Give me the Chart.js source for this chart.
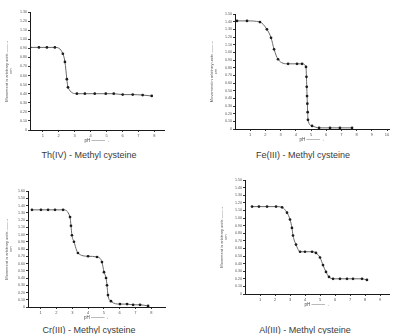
<!DOCTYPE html>
<html>
<head>
<meta charset="utf-8">
<script src="https://cdn.jsdelivr.net/npm/chart.js@4.4.1/dist/chart.umd.min.js"></script>
<style>
  html, body { margin: 0; padding: 0; background: #fff; }
  #wrap { position: relative; width: 393px; height: 334px; overflow: hidden; background: #fff; }
  canvas { position: absolute; }
  .ttl { position: absolute; font-family: "Liberation Sans", Arial, sans-serif; font-size: 9px; color: #3a3a3a; white-space: nowrap; transform: translate(-50%, -50%); line-height: 9px; }
</style>
</head>
<body>
<div id="wrap">
  <canvas id="cTh" width="170" height="145" style="left:0px;top:0px"></canvas>
  <canvas id="cFe" width="188" height="144" style="left:205px;top:0px"></canvas>
  <canvas id="cCr" width="175" height="155" style="left:0px;top:167px"></canvas>
  <canvas id="cAl" width="178" height="142" style="left:215px;top:167px"></canvas>
  <div class="ttl" style="left:89px;top:155px">Th(IV) - Methyl cysteine</div>
  <div class="ttl" style="left:303px;top:155px">Fe(III) - Methyl cysteine</div>
  <div class="ttl" style="left:89px;top:330px">Cr(III) - Methyl cysteine</div>
  <div class="ttl" style="left:305px;top:330px">Al(III) - Methyl cysteine</div>
</div>
<script>
// ---- data (pH vs. value) ----
const thPH = [0.2, 0.76, 1.26, 1.76, 2.26, 2.39, 2.51, 2.58, 3.14, 3.64, 4.26, 4.95, 5.45, 6.01, 6.64, 7.26, 7.83];
const thVal = [0.91, 0.91, 0.91, 0.91, 0.84, 0.75, 0.56, 0.47, 0.40, 0.40, 0.40, 0.40, 0.40, 0.39, 0.39, 0.385, 0.375];

const fePH = [0.13, 0.79, 1.64, 2.1, 2.37, 2.57, 2.83, 3.49, 4.08, 4.41, 4.67, 4.70, 4.72, 4.74, 4.76, 4.78, 4.80, 5.07, 5.53, 6.25, 6.9, 7.7];
const feVal = [1.41, 1.41, 1.395, 1.30, 1.19, 1.04, 0.91, 0.85, 0.85, 0.85, 0.81, 0.68, 0.55, 0.43, 0.33, 0.22, 0.12, 0.04, 0.015, 0.015, 0.015, 0.015];

const crPH = [0.45, 1.02, 1.47, 1.91, 2.42, 2.86, 2.92, 2.98, 3.11, 3.36, 4.0, 4.57, 4.88, 5.01, 5.14, 5.2, 5.26, 5.45, 6.02, 6.47, 6.85, 7.29, 7.8];
const crVal = [1.34, 1.34, 1.34, 1.34, 1.34, 1.24, 1.12, 0.99, 0.90, 0.745, 0.70, 0.69, 0.62, 0.48, 0.40, 0.30, 0.165, 0.08, 0.04, 0.04, 0.03, 0.03, 0.015];

const alPH = [0.47, 0.93, 1.47, 2.07, 2.47, 2.8, 3.0, 3.13, 3.2, 3.4, 3.67, 4.0, 4.47, 4.73, 5.0, 5.2, 5.4, 5.6, 5.87, 6.33, 6.8, 7.2, 7.8, 8.13];
const alVal = [1.15, 1.15, 1.15, 1.15, 1.14, 1.07, 0.98, 0.87, 0.77, 0.65, 0.556, 0.556, 0.556, 0.54, 0.48, 0.38, 0.29, 0.225, 0.20, 0.20, 0.20, 0.20, 0.20, 0.185];

// tick values
const xTicks8 = [1, 2, 3, 4, 5, 6, 7, 8];
const xTicks9 = [1, 2, 3, 4, 5, 6, 7, 8, 9];
const xTicks10 = [1, 2, 3, 4, 5, 6, 7, 8, 9, 10];
const yTicks13 = [0, 0.1, 0.2, 0.3, 0.4, 0.5, 0.6, 0.7, 0.8, 0.9, 1.0, 1.1, 1.2, 1.3];
const yTicks15 = [0, 0.1, 0.2, 0.3, 0.4, 0.5, 0.6, 0.7, 0.8, 0.9, 1.0, 1.1, 1.2, 1.3, 1.4, 1.5];
const yTicks16 = [0, 0.1, 0.2, 0.3, 0.4, 0.5, 0.6, 0.7, 0.8, 0.9, 1.0, 1.1, 1.2, 1.3, 1.4, 1.5, 1.6];

const yTitle = ['Movement in arbitrary units ——→', 'cm'];
const xTitle = 'pH ———→';

function makeChart(id, xs, ys, xt, yt, cfg) {
  new Chart(document.getElementById(id), {
    type: 'scatter',
    data: {
      datasets: [{
        data: xs.map((x, i) => ({ x: x, y: ys[i] })),
        showLine: true,
        borderColor: '#6a6a6a',
        borderWidth: 1,
        pointRadius: 1.35,
        pointBackgroundColor: '#1c1c1c',
        pointBorderWidth: 0,
        cubicInterpolationMode: 'monotone'
      }]
    },
    options: {
      responsive: false,
      animation: false,
      events: [],
      plugins: { legend: { display: false }, tooltip: { enabled: false } },
      layout: { padding: { top: cfg.top, right: cfg.right, left: 0, bottom: 0 } },
      scales: {
        x: {
          type: 'linear', min: cfg.xmin, max: cfg.xmax,
          afterFit: s => { s.height = 15; },
          afterBuildTicks: s => { s.ticks = xt.map(v => ({ value: v })); },
          grid: { display: true, drawOnChartArea: false, tickLength: 2, color: '#333' },
          border: { color: '#1a1a1a', width: 1 },
          ticks: { font: { size: 4, family: 'Liberation Sans' }, color: '#555', padding: 1, maxRotation: 0, autoSkip: false },
          title: { display: true, text: xTitle, font: { size: 4.5, family: 'Liberation Sans' }, color: '#444', padding: { top: 0, bottom: 2 } }
        },
        y: {
          type: 'linear', min: 0, max: cfg.ymax,
          afterFit: s => { s.width = cfg.yw; },
          afterBuildTicks: s => { s.ticks = yt.map(v => ({ value: v })); },
          grid: { display: true, drawOnChartArea: false, tickLength: 2, color: '#333' },
          border: { color: '#1a1a1a', width: 1 },
          ticks: { font: { size: 3.6, family: 'Liberation Sans' }, color: '#555', padding: 1, autoSkip: false,
                   callback: v => v === 0 ? '0' : v.toFixed(2) },
          title: { display: true, text: yTitle, font: { size: 4, family: 'Liberation Sans' }, color: '#555', padding: { top: 4, bottom: 2 } }
        }
      }
    }
  });
}

makeChart('cTh', thPH, thVal, xTicks8, yTicks13, { top: 12, right: 6, yw: 30, xmin: 0.2, xmax: 8.6, ymax: 1.3 });
makeChart('cFe', fePH, feVal, xTicks10, yTicks15, { top: 14, right: 4, yw: 30, xmin: 0, xmax: 10.13, ymax: 1.5 });
makeChart('cCr', crPH, crVal, xTicks8, yTicks16, { top: 24, right: 10, yw: 28, xmin: 0.2, xmax: 8.87, ymax: 1.6 });
makeChart('cAl', alPH, alVal, xTicks9, yTicks15, { top: 13, right: 4, yw: 30, xmin: 0, xmax: 9.6, ymax: 1.5 });
</script>
</body>
</html>
